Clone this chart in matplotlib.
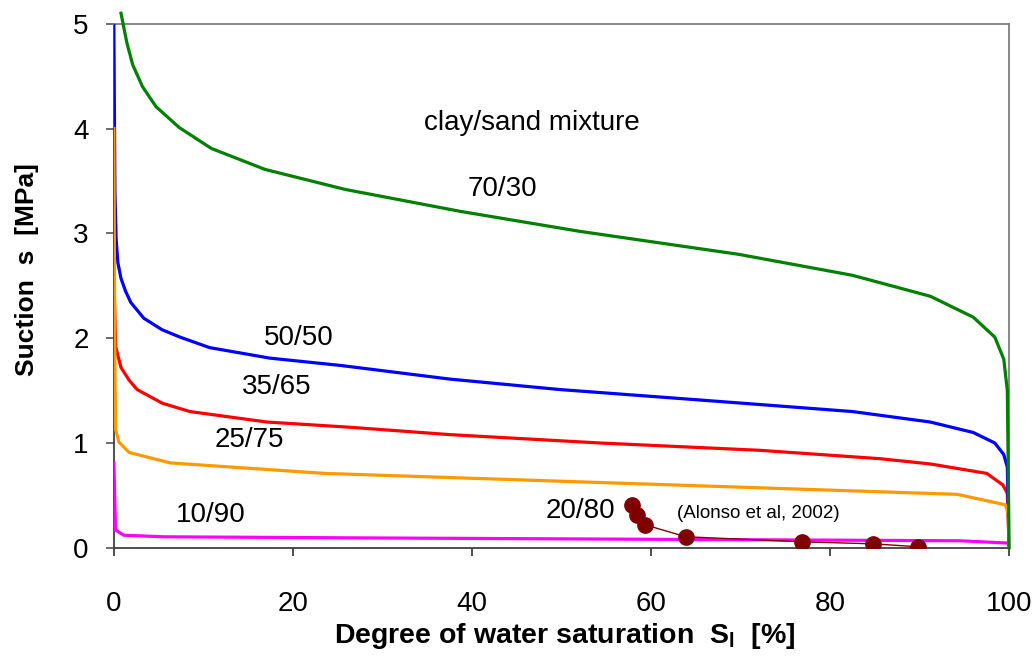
import numpy as np
import matplotlib.pyplot as plt

plt.rcParams['font.family'] = ['Liberation Sans', 'DejaVu Sans']
plt.rcParams['mathtext.fontset'] = 'custom'
plt.rcParams['mathtext.rm'] = 'Liberation Sans'
plt.rcParams['mathtext.bf'] = 'Liberation Sans:bold'

# retention curves, degree of saturation [%] vs suction [MPa]
x_70_30 = [0.8, 1.45, 2.1, 3.2, 4.7, 7.3, 10.9, 16.9, 25.8, 38.7, 52.0, 69.8, 82.5, 91.2, 96.0, 98.4, 99.4, 99.8, 100]
s_70_30 = [5.1, 4.82, 4.61, 4.40, 4.21, 4.01, 3.81, 3.61, 3.42, 3.21, 3.02, 2.80, 2.60, 2.40, 2.20, 2.01, 1.80, 1.50, 0.0]

x_50_50 = [0, 0.12, 0.25, 0.45, 0.8, 1.3, 1.9, 3.35, 5.4, 7.4, 10.7, 17.4, 25.3, 37.5, 49.8, 65.5, 82.5, 91.2, 96.0, 98.4, 99.4, 99.8, 100]
s_50_50 = [5.0, 3.4, 2.95, 2.72, 2.57, 2.45, 2.34, 2.19, 2.08, 2.01, 1.91, 1.81, 1.74, 1.61, 1.51, 1.41, 1.30, 1.20, 1.10, 1.00, 0.89, 0.77, 0.0]

x_35_65 = [0, 0.2, 0.8, 1.7, 2.6, 5.4, 8.5, 17.1, 26.4, 37.5, 54.3, 72.2, 85.6, 91.2, 97.5, 99.3, 99.8, 100]
s_35_65 = [2.6, 1.92, 1.72, 1.60, 1.51, 1.38, 1.30, 1.20, 1.15, 1.08, 1.00, 0.93, 0.85, 0.80, 0.71, 0.60, 0.52, 0.0]

x_25_75 = [0, 0.1, 0.19, 0.56, 1.7, 6.3, 23.5, 94.2, 99.6, 99.9, 100]
s_25_75 = [4.0, 2.0, 1.13, 1.01, 0.91, 0.81, 0.71, 0.51, 0.41, 0.32, 0.0]

x_10_90 = [0, 0.19, 1.1, 5.6, 26.4, 94.5, 99.9, 100]
s_10_90 = [0.81, 0.17, 0.12, 0.105, 0.095, 0.067, 0.045, 0.04]

# 20/80 measurements (Alonso et al, 2002)
x_alonso = [57.9, 58.4, 59.3, 63.9, 76.9, 84.8, 89.8]
s_alonso = [0.41, 0.31, 0.22, 0.105, 0.057, 0.038, 0.01]

fig = plt.figure(figsize=(10.35, 6.6), dpi=100)
ax = fig.add_axes([0.110, 0.170, 0.865, 0.794])

lw = 2.3
ax.plot(x_10_90, s_10_90, color='#FF00FF', lw=lw, zorder=3)
ax.plot(x_35_65, s_35_65, color='#FF0000', lw=lw, zorder=3)
ax.plot(x_50_50, s_50_50, color='#0000FF', lw=lw, zorder=3)
ax.plot(x_25_75, s_25_75, color='#FF9900', lw=lw, zorder=3)
ax.plot(x_70_30, s_70_30, color='#008000', lw=lw, zorder=3, clip_on=False)
ax.plot(x_alonso, s_alonso, color='#800000', lw=1.0, marker='o', ms=11, zorder=4)

ax.set_xlim(0, 100)
ax.set_ylim(0, 5)
ax.set_xticks(np.arange(0, 101, 20))
ax.set_yticks(np.arange(0, 6, 1))

for side in ['top', 'right']:
    ax.spines[side].set_color('#808080')
    ax.spines[side].set_linewidth(1.3)
for side in ['left', 'bottom']:
    ax.spines[side].set_color('#404040')
    ax.spines[side].set_linewidth(1.3)

ax.tick_params(axis='x', direction='out', length=6, width=1.3, color='#404040', labelsize=20, pad=25)
ax.tick_params(axis='y', direction='out', length=6, width=1.3, color='#606060', labelsize=20, pad=12)

fs = 20
ax.text(46.7, 4.05, 'clay/sand mixture', fontsize=fs, ha='center', va='center')
ax.text(43.4, 3.42, '70/30', fontsize=fs, ha='center', va='center')
ax.text(20.6, 2.00, '50/50', fontsize=fs, ha='center', va='center')
ax.text(18.2, 1.53, '35/65', fontsize=fs, ha='center', va='center')
ax.text(15.1, 1.03, '25/75', fontsize=fs, ha='center', va='center')
ax.text(10.8, 0.31, '10/90', fontsize=fs, ha='center', va='center')
ax.text(52.1, 0.35, '20/80', fontsize=fs, ha='center', va='center')
ax.text(72.0, 0.33, '(Alonso et al, 2002)', fontsize=13.5, ha='center', va='center')

fig.text(0.546, 0.036, r'Degree of water saturation  $\mathbf{S_l}$  [%]',
         fontsize=20.5, fontweight='bold', ha='center', va='center')
fig.text(0.026, 0.592, 'Suction  s  [MPa]', fontsize=19, fontweight='bold',
         ha='center', va='center', rotation=90)

fig.savefig('out.png', dpi=100)
